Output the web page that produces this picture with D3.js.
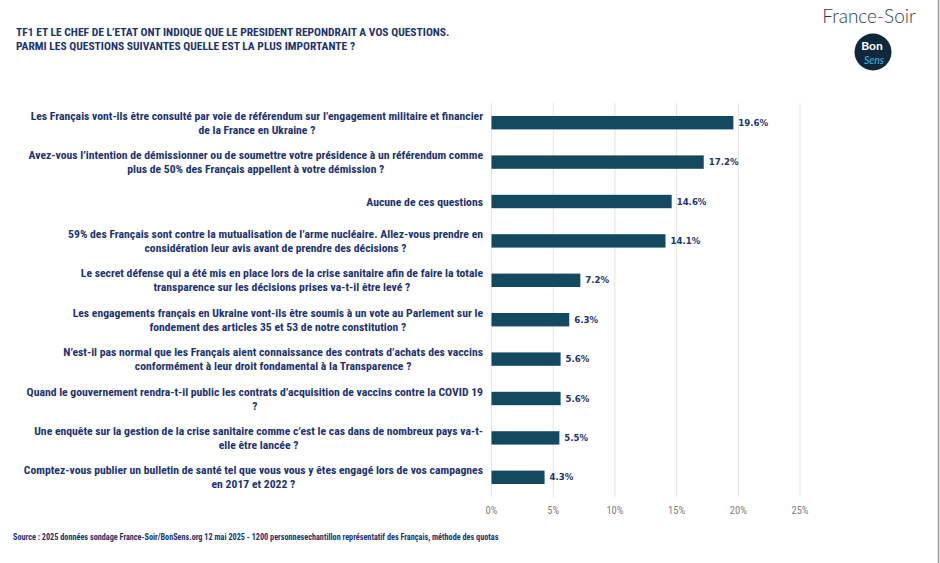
<!DOCTYPE html>
<html>
<head>
<meta charset="utf-8">
<script src="https://cdn.jsdelivr.net/npm/d3@7"></script>
<style>
  body { margin: 0; background: #fff; }
  svg { display: block; }
  .cond { font-family: "Liberation Sans Narrow", "Roboto Condensed", "DejaVu Sans Condensed", sans-serif; }
</style>
</head>
<body>
<div id="chart"></div>
<script>
const questions = [
  'Les Français vont-ils être consulté par voie de référendum sur l’engagement militaire et financier\nde la France en Ukraine ?',
  'Avez-vous l’intention de démissionner ou de soumettre votre présidence à un référendum comme\nplus de 50% des Français appellent à votre démission ?',
  'Aucune de ces questions',
  '59% des Français sont contre la mutualisation de l’arme nucléaire. Allez-vous prendre en\nconsidération leur avis avant de prendre des décisions ?',
  'Le secret défense qui a été mis en place lors de la crise sanitaire afin de faire la totale\ntransparence sur les décisions prises va-t-il être levé ?',
  'Les engagements français en Ukraine vont-ils être soumis à un vote au Parlement sur le\nfondement des articles 35 et 53 de notre constitution ?',
  'N’est-il pas normal que les Français aient connaissance des contrats d’achats des vaccins\nconformément à leur droit fondamental à la Transparence ?',
  'Quand le gouvernement rendra-t-il public les contrats d’acquisition de vaccins contre la COVID 19\n?',
  'Une enquête sur la gestion de la crise sanitaire comme c’est le cas dans de nombreux pays va-t-\nelle être lancée ?',
  'Comptez-vous publier un bulletin de santé tel que vous vous y êtes engagé lors de vos campagnes\nen 2017 et 2022 ?'
]
const shares = [19.6, 17.2, 14.6, 14.1, 7.2, 6.3, 5.6, 5.6, 5.5, 4.3]
const ticks = [0, 5, 10, 15, 20, 25]

const titleLines = [
  'TF1 ET LE CHEF DE L’ETAT ONT INDIQUE QUE LE PRESIDENT REPONDRAIT A VOS QUESTIONS.',
  'PARMI LES QUESTIONS SUIVANTES QUELLE EST LA PLUS IMPORTANTE ?'
]
const source = 'Source : 2025 données sondage France-Soir/BonSens.org 12 mai 2025 - 1200 personnesechantillon représentatif des Français, méthode des quotas'

const width = 940
const height = 563
const navy = '#1d3370'
const barColor = '#134a60'

const svg = d3.select('#chart')
  .append('svg')
  .attr('width', width)
  .attr('height', height)

// frame edge on the right
svg.append('line')
  .attr('x1', 938.5).attr('x2', 938.5)
  .attr('y1', 0).attr('y2', height)
  .attr('stroke', '#9a9a9a')
  .attr('stroke-width', 1.5)

const x = d3.scaleLinear().domain([0, 25]).range([491.5, 800])
const y = d3.scaleBand()
  .domain(questions)
  .range([103, 497])
  .paddingInner(0.66)
  .paddingOuter(0.33)

// gridlines
svg.append('g')
  .selectAll('line')
  .data(ticks)
  .join('line')
  .attr('x1', d => x(d)).attr('x2', d => x(d))
  .attr('y1', 103).attr('y2', 497)
  .attr('stroke', '#e4e4e4')
  .attr('stroke-width', 1)

// tick labels
svg.append('g')
  .attr('class', 'cond')
  .selectAll('text')
  .data(ticks)
  .join('text')
  .attr('x', d => x(d))
  .attr('y', 514)
  .attr('text-anchor', 'middle')
  .attr('font-size', 10.5)
  .attr('fill', '#808080')
  .text(d => d + '%')

// bars
svg.append('g')
  .selectAll('rect')
  .data(shares)
  .join('rect')
  .attr('x', x(0))
  .attr('y', (d, i) => y(questions[i]))
  .attr('width', d => x(d) - x(0))
  .attr('height', y.bandwidth())
  .attr('fill', barColor)

// value labels
svg.append('g')
  .selectAll('text')
  .data(shares)
  .join('text')
  .attr('x', d => x(d) + 5)
  .attr('y', (d, i) => y(questions[i]) + y.bandwidth() / 2)
  .attr('dy', '0.35em')
  .attr('font-family', 'Verdana, "DejaVu Sans", sans-serif')
  .attr('font-weight', 'bold')
  .attr('font-size', 8.6)
  .attr('fill', navy)
  .text(d => d.toFixed(1) + '%')

// question labels, centred lines, right edge at the axis
const labels = svg.append('g')
  .attr('class', 'cond')
  .attr('font-weight', 'bold')
  .attr('font-size', 11.7)
  .attr('fill', navy)

questions.forEach(q => {
  const lines = q.split('\n')
  const cy = y(q) + y.bandwidth() / 2
  const t = labels.append('text')
    .attr('text-anchor', 'middle')
    .attr('y', cy - (lines.length - 1) * 7)
  t.selectAll('tspan')
    .data(lines)
    .join('tspan')
    .attr('dy', (d, i) => i === 0 ? '0.35em' : 14)
    .text(d => d)
  // measure widest line and centre the block so it ends at x=483
  let w = 0
  t.selectAll('tspan').each(function() { w = Math.max(w, this.getComputedTextLength()) })
  t.selectAll('tspan').attr('x', 483 - w / 2)
})

// title
svg.append('g')
  .attr('class', 'cond')
  .attr('font-weight', 'bold')
  .attr('font-size', 11.5)
  .attr('fill', navy)
  .selectAll('text')
  .data(titleLines)
  .join('text')
  .attr('x', 16)
  .attr('y', (d, i) => 36 + i * 14)
  .text(d => d)

// source
svg.append('text')
  .attr('class', 'cond')
  .attr('x', 13)
  .attr('y', 540)
  .attr('font-weight', 'bold')
  .attr('font-size', 8.2)
  .attr('fill', navy)
  .text(source)

// logo
const logo = svg.append('g')
const brand = logo.append('text')
  .attr('x', 869)
  .attr('y', 23)
  .attr('text-anchor', 'middle')
  .attr('font-family', 'Lato, "Open Sans", sans-serif')
  .attr('font-weight', 300)
  .attr('font-size', 19)
  .attr('fill', '#2d3b4c')
brand.append('tspan').text('France')
brand.append('tspan').attr('fill', '#e0242b').text('-')
brand.append('tspan').text('Soir')

logo.append('circle')
  .attr('cx', 873).attr('cy', 52).attr('r', 18.5)
  .attr('fill', '#10283b')
logo.append('text')
  .attr('x', 872).attr('y', 50)
  .attr('text-anchor', 'middle')
  .attr('font-family', 'Lato, sans-serif')
  .attr('font-weight', 700)
  .attr('font-size', 12)
  .attr('fill', '#fff')
  .text('Bon')
logo.append('text')
  .attr('x', 874).attr('y', 64)
  .attr('text-anchor', 'middle')
  .attr('font-family', 'Lato, sans-serif')
  .attr('font-style', 'italic')
  .attr('font-size', 10.5)
  .attr('fill', '#3fb6e0')
  .text('Sens')
</script>
</body>
</html>
